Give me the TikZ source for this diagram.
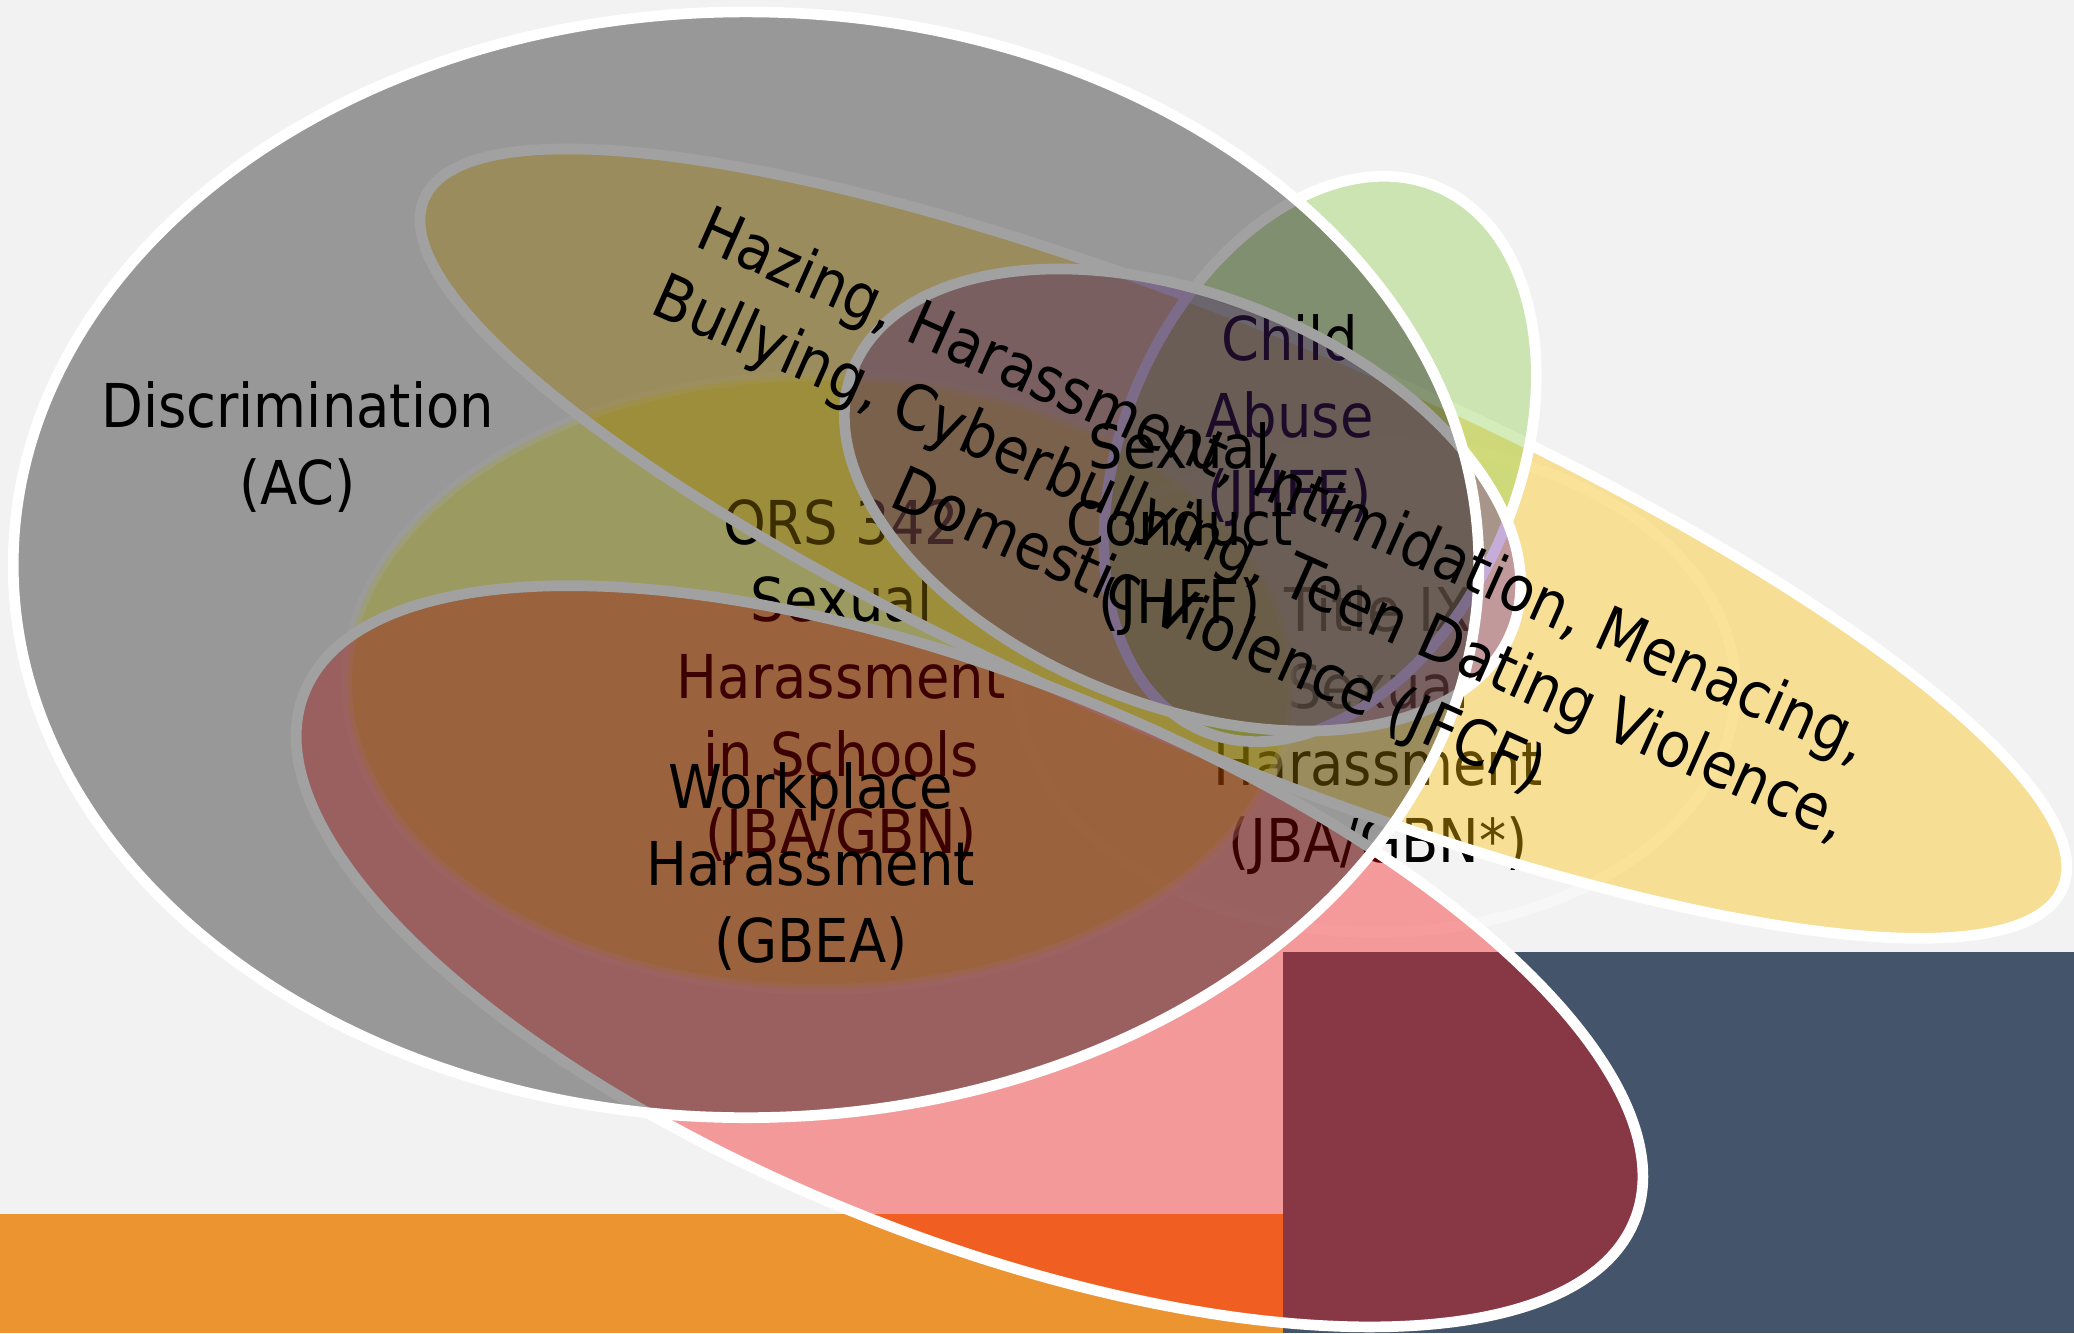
\documentclass[tikz,border=0pt]{standalone}
\usepackage{fontspec}
\setmainfont{DejaVu Sans}[FakeStretch=0.9]
\usepackage{tikz}
\usetikzlibrary{positioning}

\definecolor{slidebg}{HTML}{F2F2F2}
\definecolor{barorange}{HTML}{EC9430}
\definecolor{barblue}{HTML}{44546A}
\definecolor{setyellow}{HTML}{FFFF00}
\definecolor{setgold}{HTML}{FFC000}
\definecolor{setgreen}{HTML}{92D050}
\definecolor{setpurple}{RGB}{112,48,160}
\definecolor{setred}{RGB}{248,10,10}

\begin{document}
\begin{tikzpicture}[
    vennset/.style={draw=white, line width=2.3pt},
    faintset/.style={draw=white, draw opacity=0.4, line width=2.3pt},
    venntext/.style={font=\fontsize{13}{16.6}\selectfont, align=center, inner sep=0pt}
  ]
  \useasboundingbox (0,0) rectangle (15.68,10.08);
  \clip (0,0) rectangle (15.68,10.08);
  % slide background
  \fill[slidebg] (0,0) rectangle (15.68,10.08);
  \fill[barorange] (0,0) rectangle (9.70,0.90);
  \fill[barblue] (9.70,0) rectangle (15.68,2.88);

  % Title IX
  \draw[faintset, fill=white, fill opacity=0.15] (10.41,4.88) ellipse [x radius=2.71, y radius=1.85];
  \node[venntext] (titleix) at (10.42,4.56) {Title IX\\Sexual\\Harassment\\(JBA/GBN*)};

  % ORS 342
  \draw[faintset, fill=setyellow, fill opacity=0.36] (6.20,4.92) ellipse [x radius=3.58, y radius=2.32];
  \node[venntext] (ors) at (6.36,4.92) {ORS 342\\Sexual\\Harassment\\in Schools\\(JBA/GBN)};

  % JFCF
  \draw[vennset, fill=setgold, fill opacity=0.38, rotate around={-22.8:(9.40,5.97)}] (9.40,5.97) ellipse [x radius=6.72, y radius=1.58];

  % Child Abuse
  \draw[vennset, fill=setgreen, fill opacity=0.4, rotate around={66.3:(9.98,6.61)}] (9.98,6.61) ellipse [x radius=2.24, y radius=1.49];
  \node[venntext] (child) at (9.75,6.90) {Child\\Abuse\\(JHFE)};

  % Sexual Conduct
  \draw[vennset, fill=setpurple, fill opacity=0.4, rotate around={-21.6:(8.94,6.30)}] (8.94,6.30) ellipse [x radius=2.68, y radius=1.55];
  \node[venntext] (conduct) at (8.92,6.08) {Sexual\\Conduct\\(JHFF)};

  % Workplace
  \draw[vennset, fill=setred, fill opacity=0.38, rotate around={-21.6:(7.33,2.85)}] (7.33,2.85) ellipse [x radius=5.41, y radius=2.12];
  \node[venntext] (workplace) at (6.13,3.53) {Workplace\\Harassment\\(GBEA)};

  % Discrimination
  \draw[vennset, fill=black, fill opacity=0.37] (5.64,5.81) ellipse [x radius=5.54, y radius=4.18];
  \node[venntext] (discrim) at (2.25,6.70) {Discrimination\\(AC)};

  \node[venntext, font=\fontsize{13.5}{17}\selectfont, rotate=-24] (jfcf) at (9.45,5.84)
    {Hazing, Harassment, Intimidation, Menacing,\\Bullying, Cyberbullying, Teen Dating Violence,\\Domestic Violence (JFCF)};
\end{tikzpicture}
\end{document}
